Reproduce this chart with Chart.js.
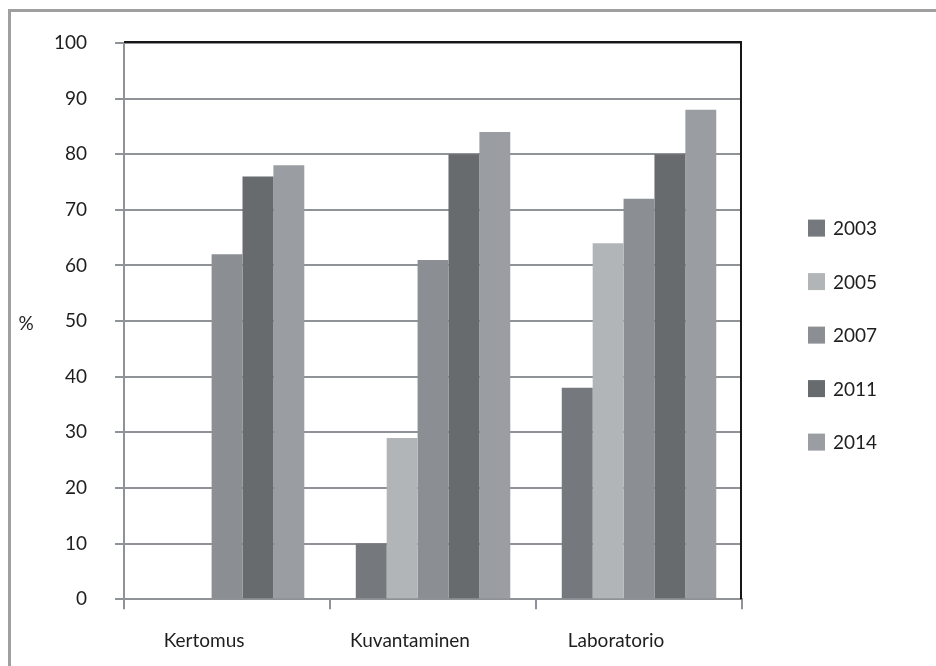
<!DOCTYPE html>
<html>
<head>
<meta charset="utf-8">
<script src="https://cdn.jsdelivr.net/npm/chart.js@4"></script>
<style>
  html, body { margin: 0; padding: 0; background: #ffffff; }
  #wrap { position: relative; width: 936px; height: 666px; overflow: hidden; }
  #wrap canvas { position: absolute; left: 0; top: 0; }
  #frame {
    position: absolute; left: 8px; top: 9px; width: 980px; height: 720px;
    border-left: 3px solid #9f9f9f; border-top: 3px solid #9f9f9f;
    box-sizing: border-box; pointer-events: none;
  }
</style>
</head>
<body>
<div id="wrap">
  <canvas id="chart" width="936" height="666"></canvas>
  <div id="frame"></div>
</div>
<script>
// Share of cases (%) by type and survey year
const categories = ['Kertomus', 'Kuvantaminen', 'Laboratorio'];
const years = ['2003', '2005', '2007', '2011', '2014'];
const values2003 = [0, 10, 38];
const values2005 = [0, 29, 64];
const values2007 = [62, 61, 72];
const values2011 = [76, 80, 80];
const values2014 = [78, 84, 88];
const yTickValues = [0, 10, 20, 30, 40, 50, 60, 70, 80, 90, 100];
const yAxisLabel = '%';

const seriesValues = [values2003, values2005, values2007, values2011, values2014];
const seriesColors = ['#75787c', '#b2b5b8', '#8b8e92', '#676b6e', '#9a9da1'];

const TEXT = '#1e1e1e';
const GRID = '#8f9297';
const FONT = 'Lato, "Open Sans", sans-serif';

Chart.defaults.font.family = FONT;
Chart.defaults.font.size = 19;
Chart.defaults.color = TEXT;

// Black top/right frame of the plot, the "%" label and the year legend
const plotDecor = {
  id: 'plotDecor',
  afterDraw(chart) {
    const { ctx, chartArea: a } = chart;
    ctx.save();
    ctx.strokeStyle = '#161616';
    ctx.lineWidth = 2;
    ctx.beginPath();
    ctx.moveTo(a.left, a.top - 1);
    ctx.lineTo(a.right - 1, a.top - 1);
    ctx.lineTo(a.right - 1, a.bottom);
    ctx.stroke();

    ctx.fillStyle = TEXT;
    ctx.font = '19px ' + FONT;
    ctx.textAlign = 'center';
    ctx.textBaseline = 'middle';
    ctx.fillText(yAxisLabel, a.left - 98, (a.top + a.bottom) / 2 + 3);

    const sets = chart.data.datasets;
    const gap = 53.5;
    const midY = (a.top + a.bottom) / 2 + 14;
    const x = a.right + 66;
    sets.forEach((ds, i) => {
      const cy = midY + (i - (sets.length - 1) / 2) * gap;
      ctx.fillStyle = ds.backgroundColor;
      ctx.fillRect(x, cy - 8.5, 17, 17);
      ctx.fillStyle = TEXT;
      ctx.textAlign = 'left';
      ctx.fillText(ds.label, x + 25, cy + 1);
    });
    ctx.restore();
  }
};

new Chart(document.getElementById('chart'), {
  type: 'bar',
  data: {
    labels: categories,
    datasets: years.map((y, i) => ({
      label: y,
      data: seriesValues[i],
      backgroundColor: seriesColors[i],
      borderWidth: 0,
      categoryPercentage: 0.75,
      barPercentage: 1.0
    }))
  },
  options: {
    responsive: false,
    animation: false,
    devicePixelRatio: 1,
    layout: { padding: { left: 26, right: 194, top: 43, bottom: -6 } },
    plugins: {
      legend: { display: false },
      tooltip: { enabled: false }
    },
    scales: {
      x: {
        offset: true,
        grid: {
          offset: true,
          drawOnChartArea: false,
          drawTicks: true,
          tickLength: 10,
          color: GRID,
          lineWidth: 2
        },
        border: { color: GRID, width: 2 },
        ticks: { padding: 20, labelOffset: -23, maxRotation: 0 }
      },
      y: {
        min: 0,
        max: 100,
        afterBuildTicks(scale) {
          scale.ticks = yTickValues.map(v => ({ value: v }));
        },
        grid: {
          color: GRID,
          lineWidth: 2,
          drawTicks: true,
          tickLength: 9
        },
        border: { color: GRID, width: 2 },
        ticks: { padding: 28 }
      }
    }
  },
  plugins: [plotDecor]
});
</script>
</body>
</html>
